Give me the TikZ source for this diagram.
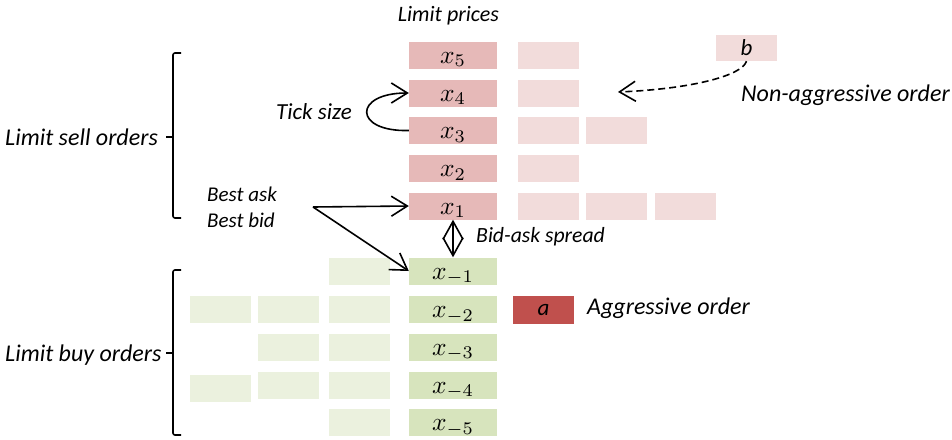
\documentclass[tikz,border=0pt]{standalone}
\usepackage{graphicx}
\usepackage{fontspec}
\setmainfont{Carlito}
\usetikzlibrary{arrows.meta}
\definecolor{sellc}{HTML}{E6B9B8}
\definecolor{sellx}{HTML}{F2DCDB}
\definecolor{buyc}{HTML}{D7E4BD}
\definecolor{buyx}{HTML}{EBF1DE}
\definecolor{aggc}{HTML}{C0504D}
\newcommand{\pr}[1]{\scalebox{2.55}{$x_{#1}$}}
\begin{document}
\begin{tikzpicture}[x=1pt,y=-1pt,
  box/.style={inner sep=0pt, minimum height=27pt, minimum width=61pt},
  price/.style={box, minimum width=88pt, font=\normalsize, text height=20pt, text depth=4pt},
  sellp/.style={price, fill=sellc},
  buyp/.style={price, fill=buyc},
  sellq/.style={box, fill=sellx},
  buyq/.style={box, fill=buyx},
  lbl/.style={inner sep=0pt, font=\itshape\fontsize{21}{21}\selectfont},
  big/.style={font=\itshape\fontsize{24}{24}\selectfont},
  arr/.style={line width=1.6pt, -{Straight Barb[length=16pt,width=20pt,line width=1.6pt]}},
  brk/.style={line width=1.6pt, rounded corners=2pt}
]
\useasboundingbox (0,0) rectangle (952,439);

% sell price column
\node[sellp] (s5) at (453,55)    {\pr{5}};
\node[sellp] (s4) at (453,93)    {\pr{4}};
\node[sellp] (s3) at (453,130.5) {\pr{3}};
\node[sellp] (s2) at (453,168.5) {\pr{2}};
\node[sellp] (s1) at (453,206)   {\pr{1}};
% buy price column
\node[buyp] (b1) at (453,271)   {\pr{-1}};
\node[buyp] (b2) at (453,309.5) {\pr{-2}};
\node[buyp] (b3) at (453,347)   {\pr{-3}};
\node[buyp] (b4) at (453,385)   {\pr{-4}};
\node[buyp] (b5) at (453,422.5) {\pr{-5}};

% sell queue
\node[sellq] (q5a) at (548.5,55) {};
\node[sellq] (q4a) at (548.5,93) {};
\node[sellq] (q3a) at (548.5,130.5) {};
\node[sellq] (q3b) at (616.5,130.5) {};
\node[sellq] (q2a) at (548.5,168.5) {};
\node[sellq] (q1a) at (548.5,206) {};
\node[sellq] (q1b) at (616.5,206) {};
\node[sellq] (q1c) at (685.5,206) {};

% buy queue
\node[buyq] (p1a) at (359.5,271) {};
\node[buyq] (p2a) at (359.5,309) {};
\node[buyq] (p2b) at (288.5,309) {};
\node[buyq] (p2c) at (220.5,309) {};
\node[buyq] (p3a) at (359.5,347) {};
\node[buyq] (p3b) at (288.5,347.5) {};
\node[buyq] (p4a) at (359.5,385) {};
\node[buyq] (p4b) at (288.5,385) {};
\node[buyq] (p4c) at (220.5,388) {};
\node[buyq] (p5a) at (359.5,422.5) {};

% orders a and b
\node[box, minimum height=26pt, fill=sellx, font=\itshape\fontsize{23}{23}\selectfont] (bo) at (746.5,48) {b};
\node[box, minimum height=28pt, fill=aggc, font=\itshape\fontsize{23}{23}\selectfont] (ao) at (543.5,310) {a};

% labels
\node[lbl, font=\itshape\fontsize{22}{22}\selectfont] (lp) at (448.5,16) {Limit prices};
\node[lbl, anchor=east, font=\itshape\fontsize{23}{23}\selectfont] (ts) at (352,112) {Tick size};
\node[lbl, anchor=west] (ba) at (207,194) {Best ask};
\node[lbl, anchor=west] (bb) at (207,220) {Best bid};
\node[lbl, anchor=west, font=\itshape\fontsize{21.7}{22}\selectfont] (sp) at (476,237) {Bid-ask spread};
\node[lbl, big, anchor=west] (na) at (741,95) {Non-aggressive order};
\node[lbl, big, anchor=west] (ag) at (587,308) {Aggressive order};
\node[lbl, big, anchor=west] (ls) at (5,137) {Limit sell orders};
\node[lbl, big, anchor=west] (lb) at (5,355) {Limit buy orders};

% brackets
\draw[brk] (181,53) -- (173,53) -- (173,218) -- (181,218);
\draw[line width=1.6pt] (173,137) -- (166,137);
\draw[brk] (181,270) -- (173,270) -- (173,435) -- (181,435);
\draw[line width=1.6pt] (173,353) -- (166,353);

% arrows
\draw[arr] (s3.west) .. controls (353,132) and (353,93) .. (s4.west);
\coordinate (fork) at (313,207);
\draw[arr] (fork) -- (s1.west);
\draw[arr] (fork) -- (b1.west);
\draw[line width=1.6pt, {Straight Barb[length=18pt,width=20pt,line width=1.6pt]}-{Straight Barb[length=18pt,width=20pt,line width=1.6pt]}] (s1.south) -- (b1.north);
\draw[arr, dash pattern=on 7pt off 4pt] (bo.south) .. controls (742,76) and (690,89) .. (618,92);
\end{tikzpicture}
\end{document}
